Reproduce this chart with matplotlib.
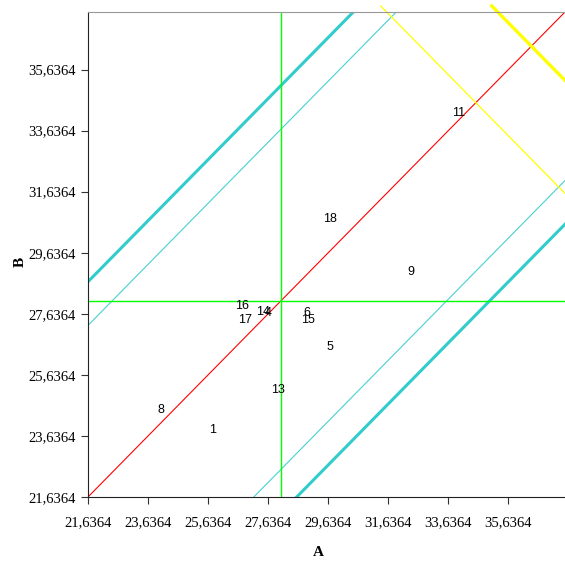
import matplotlib.pyplot as plt
import numpy as np

# labelled observations, method A vs method B
point_ids = ['1', '4', '5', '6', '8', '9', '11', '13', '14', '15', '16', '17', '18']
a_vals = [25.79, 27.62, 29.68, 28.91, 24.06, 32.40, 33.99, 27.95, 27.48, 28.95, 26.75, 26.88, 29.71]
b_vals = [23.84, 27.65, 26.56, 27.65, 24.49, 28.99, 34.21, 25.15, 27.68, 27.42, 27.88, 27.42, 30.73]

# reference lines
mean_a = 28.05
mean_b = 28.07
bias = 0.05
inner_limit = 5.57
outer_limit = 7.0
yellow_sums = [69.1, 72.8]

axis_min = 21.6364
axis_max = 37.52
tick_vals = [axis_min + 2 * k for k in range(8)]
tick_labels = [f"{v:.4f}".replace('.', ',') for v in tick_vals]

fig = plt.figure(figsize=(5.65, 5.63), dpi=100)
ax = fig.add_axes([88 / 565, 66 / 563, 477 / 565, 485 / 563])

span = np.array([axis_min - 10, axis_max + 10])

# identity line
ax.plot(span, span, color='#FF0000', linewidth=0.8, zorder=2)

# limits of agreement (thin = inner, thick = outer)
for sign in (1, -1):
    ax.plot(span, span + bias + sign * inner_limit, color='#48D1D1', linewidth=0.8, zorder=2)
    ax.plot(span, span + bias + sign * outer_limit, color='#33CCCC', linewidth=2.2, zorder=2)

# mean lines
ax.axvline(mean_a, color='#00FF00', linewidth=1.0, zorder=2)
ax.axhline(mean_b, color='#00FF00', linewidth=1.0, zorder=2)

# perpendicular lines, drawn slightly past the top of the frame
top_b = 37.72
for s, lw in zip(yellow_sums, [0.9, 2.4]):
    xs = np.array([s - top_b, axis_max])
    ax.plot(xs, s - xs, color='#FFFF00', linewidth=lw, clip_on=False, zorder=2)

for pid, a, b in zip(point_ids, a_vals, b_vals):
    ax.text(a, b, pid, ha='center', va='center', fontsize=9,
            family='Liberation Sans', color='black', zorder=3)

ax.set_xlim(axis_min, axis_max)
ax.set_ylim(axis_min, axis_max)
ax.set_xticks(tick_vals)
ax.set_xticklabels(tick_labels)
ax.set_yticks(tick_vals)
ax.set_yticklabels(tick_labels)
ax.tick_params(axis='both', length=5, width=0.8, labelsize=10.5, color='#333333')
ax.tick_params(axis='x', pad=9)
ax.tick_params(axis='y', pad=4)
for lab in ax.get_xticklabels() + ax.get_yticklabels():
    lab.set_family('Liberation Serif')

ax.spines['right'].set_visible(False)
ax.spines['top'].set_color('#999999')
ax.spines['left'].set_color('#222222')
ax.spines['bottom'].set_color('#222222')

ax.set_xlabel('A', fontsize=11, fontweight='bold', family='Liberation Serif')
ax.set_ylabel('B', fontsize=11, fontweight='bold', family='Liberation Serif')
ax.xaxis.set_label_coords(0.482, -0.100)
ax.yaxis.set_label_coords(-0.128, 0.485)

fig.savefig('out.png', dpi=100)
